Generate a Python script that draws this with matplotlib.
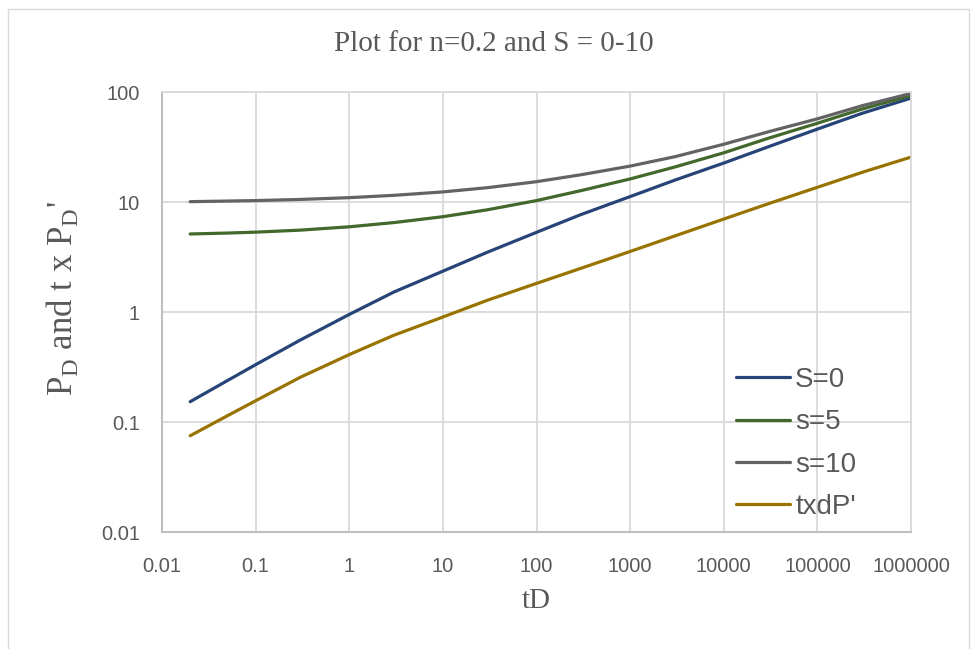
import matplotlib
matplotlib.use("Agg")
import matplotlib.pyplot as plt
from matplotlib.patches import Rectangle
from matplotlib.ticker import FixedLocator, FuncFormatter, NullLocator

plt.rcParams['mathtext.fontset'] = 'custom'
plt.rcParams['mathtext.rm'] = 'Liberation Serif'

# values
tD = [0.02, 0.05, 0.1, 0.3, 1, 3, 10, 30, 100, 300, 1000, 3000,
      1e4, 3e4, 1e5, 3e5, 1e6]
s0 = [0.153, 0.238, 0.332, 0.556, 0.95, 1.52, 2.35, 3.5, 5.3, 7.7, 11.2,
      15.8, 22.6, 31.8, 46, 64, 88]
s5 = [5.12, 5.22, 5.32, 5.55, 5.95, 6.5, 7.35, 8.5, 10.3, 12.7, 16.2,
      20.8, 28, 38, 52, 70, 93]
s10 = [10.07, 10.2, 10.3, 10.55, 10.95, 11.5, 12.35, 13.5, 15.3, 17.7, 21.2,
       25.8, 33.5, 43.5, 57, 75, 97]
txdp = [0.075, 0.114, 0.156, 0.255, 0.41, 0.615, 0.9, 1.28, 1.82, 2.5, 3.55,
        4.91, 7.0, 9.65, 13.6, 18.6, 25.6]

labels = ['S=0', 's=5', 's=10', "txdP'"]
colors = ['#264478', '#43682B', '#636363', '#997300']
xticks = [0.01, 0.1, 1, 10, 100, 1000, 10000, 100000, 1000000]
yticks = [0.01, 0.1, 1, 10, 100]

fig = plt.figure(figsize=(9.74, 6.49), dpi=100, facecolor='white')
ax = fig.add_axes([162/974, 1 - 532/649, (911-162)/974, (532-92)/649])

for series, lab, col in zip([s0, s5, s10, txdp], labels, colors):
    ax.plot(tD, series, color=col, lw=2.3, label=lab,
            solid_capstyle='round', solid_joinstyle='round')

ax.set_xscale('log')
ax.set_yscale('log')
ax.set_xlim(0.01, 1e6)
ax.set_ylim(0.01, 100)
ax.xaxis.set_major_locator(FixedLocator(xticks))
ax.yaxis.set_major_locator(FixedLocator(yticks))
ax.xaxis.set_minor_locator(NullLocator())
ax.yaxis.set_minor_locator(NullLocator())
fmt = FuncFormatter(lambda v, _: f'{v:.10g}')
ax.xaxis.set_major_formatter(fmt)
ax.yaxis.set_major_formatter(fmt)

ax.grid(True, color='#d9d9d9', lw=1.3)
ax.set_axisbelow(True)
for side in ['top', 'right']:
    ax.spines[side].set_color('#d9d9d9')
    ax.spines[side].set_linewidth(1.3)
for side in ['left', 'bottom']:
    ax.spines[side].set_color('#bfbfbf')
    ax.spines[side].set_linewidth(1.5)
ax.tick_params(length=0, labelsize=14.5, labelcolor='#595959')
ax.tick_params(axis='y', pad=16)
ax.tick_params(axis='x', pad=18)
for t in ax.get_xticklabels() + ax.get_yticklabels():
    t.set_family('Liberation Sans')

leg = ax.legend(loc='upper left', bbox_to_anchor=(736/974, 1 - 367/649),
                bbox_transform=fig.transFigure, frameon=False,
                prop={'family': 'Liberation Sans', 'size': 20},
                handlelength=1.95, handletextpad=0.18, labelspacing=0.59,
                borderpad=0, borderaxespad=0)
for t in leg.get_texts():
    t.set_color('#595959')

fig.text(0.507, 1 - 44/649, 'Plot for n=0.2 and S = 0-10', ha='center',
         va='center', fontsize=21, family='Liberation Serif', color='#595959')
fig.text(536/974, 1 - 601/649, 'tD', ha='center', va='center', fontsize=21,
         family='Liberation Serif', color='#595959')
fig.text(62/974, 1 - 298/649, r"P$_\mathrm{D}$ and t x P$_\mathrm{D}$'",
         ha='center', va='center', rotation=90, fontsize=25,
         family='Liberation Serif', color='#595959')

fig.patches.append(Rectangle((7.5/974, -0.01), (969 - 7.5)/974, 1.01 - 9/649,
                             transform=fig.transFigure, fill=False,
                             edgecolor='#d9d9d9', lw=1))

fig.savefig('out.png', dpi=100)
